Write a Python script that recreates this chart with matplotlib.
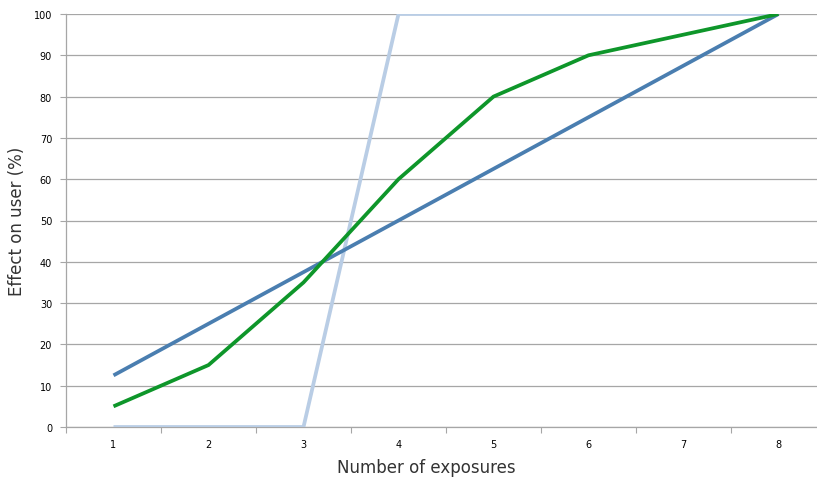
import matplotlib
matplotlib.use("Agg")
import matplotlib.pyplot as plt

exposures = [1, 2, 3, 4, 5, 6, 7, 8]
threshold = [0, 0, 0, 100, 100, 100, 100, 100]
linear = [12.5, 25, 37.5, 50, 62.5, 75, 87.5, 100]
curve = [5, 15, 35, 60, 80, 90, 95, 100]

fig = plt.figure(figsize=(8.17, 4.81), dpi=100)
ax = fig.add_axes([66 / 817, 53 / 481, 760 / 817, 413 / 481])

ax.plot(exposures, threshold, color="#B9CDE5", linewidth=2.7, solid_capstyle="butt", zorder=3)
ax.plot(exposures, linear, color="#4A7EB0", linewidth=2.7, solid_capstyle="butt", zorder=4)
ax.plot(exposures, curve, color="#0E962A", linewidth=2.7, solid_capstyle="butt", zorder=5)

ax.set_xlim(0.5, 8.5)
ax.set_ylim(0, 100)
ax.set_yticks(range(0, 101, 10))
ax.yaxis.grid(True, color="#A6A6A6", linewidth=0.9)
ax.set_axisbelow(True)

# category boundaries get tick marks, labels sit at the centres
ax.set_xticks([x + 0.5 for x in range(0, 9)])
ax.set_xticklabels([])
ax.set_xticks(exposures, minor=True)
ax.set_xticklabels([str(x) for x in exposures], minor=True, fontsize=7)
ax.tick_params(axis="x", which="major", length=4, color="#A6A6A6", direction="out")
ax.tick_params(axis="x", which="minor", length=0, pad=9)
ax.tick_params(axis="y", length=4, color="#A6A6A6", labelsize=7, pad=6)

for side in ["top", "right"]:
    ax.spines[side].set_visible(False)
for side in ["left", "bottom"]:
    ax.spines[side].set_color("#A6A6A6")
    ax.spines[side].set_linewidth(0.9)

ax.set_xlabel("Number of exposures", fontsize=12, color="#333333")
ax.set_ylabel("Effect on user (%)", fontsize=12, color="#333333")
ax.xaxis.set_label_coords((426 - 66) / 760, -(468 - 428) / 413)
ax.yaxis.set_label_coords((17 - 66) / 760, 0.5)
ax.xaxis.label.set_va("center")
ax.yaxis.label.set_va("center")

fig.savefig("out.png", dpi=100)
